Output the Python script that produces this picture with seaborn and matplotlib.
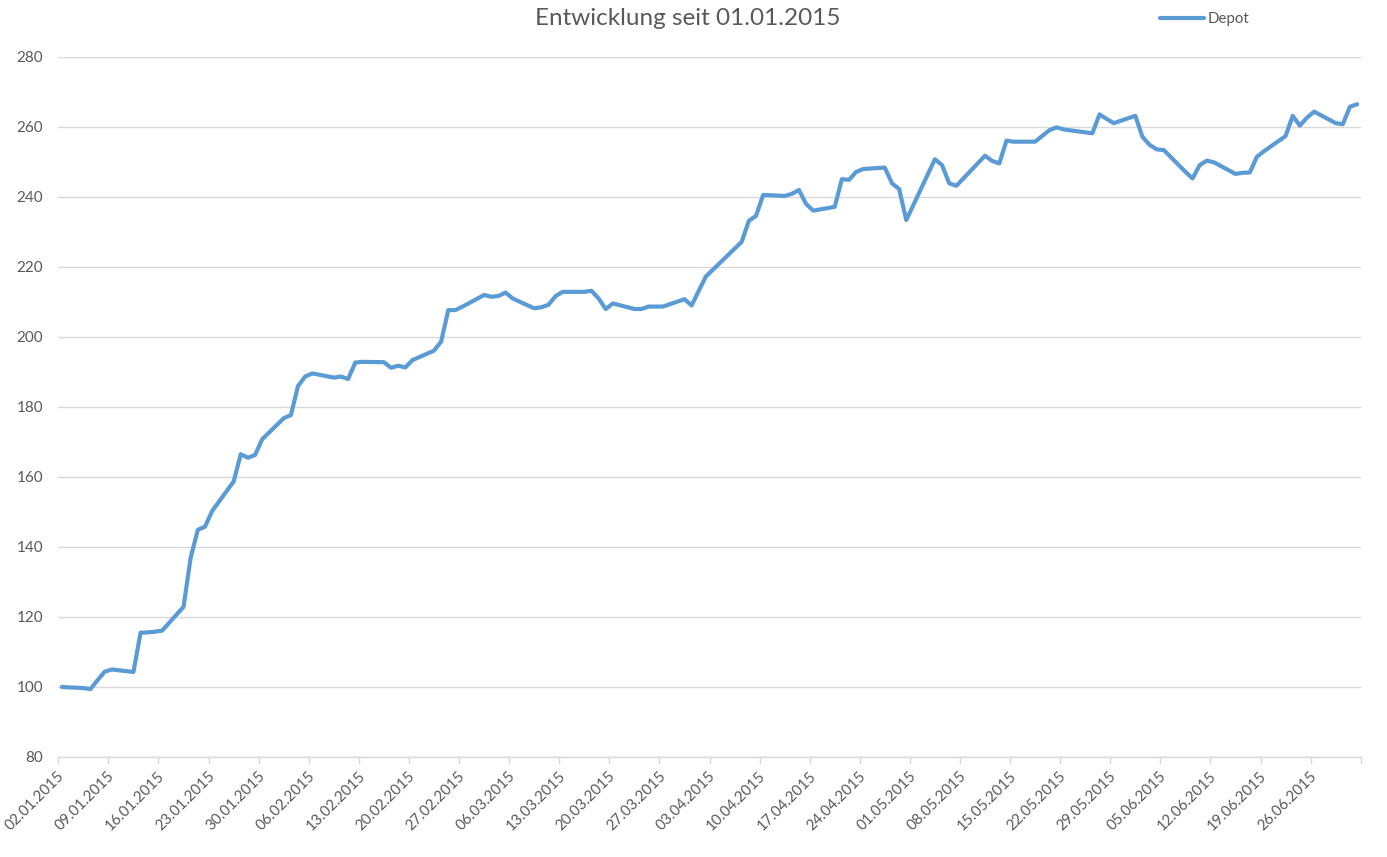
import matplotlib
matplotlib.use("Agg")
import matplotlib.pyplot as plt
import seaborn as sns
import pandas as pd

# ---- data ----
dates = [
    "2015-01-02", "2015-01-05", "2015-01-06", "2015-01-07", "2015-01-08", "2015-01-09",
    "2015-01-12", "2015-01-13", "2015-01-14", "2015-01-15", "2015-01-16",
    "2015-01-19", "2015-01-20", "2015-01-21", "2015-01-22", "2015-01-23",
    "2015-01-26", "2015-01-27", "2015-01-28", "2015-01-29", "2015-01-30",
    "2015-02-02", "2015-02-03", "2015-02-04", "2015-02-05", "2015-02-06",
    "2015-02-09", "2015-02-10", "2015-02-11", "2015-02-12", "2015-02-13",
    "2015-02-16", "2015-02-17", "2015-02-18", "2015-02-19", "2015-02-20",
    "2015-02-23", "2015-02-24", "2015-02-25", "2015-02-26", "2015-02-27",
    "2015-03-02", "2015-03-03", "2015-03-04", "2015-03-05", "2015-03-06",
    "2015-03-09", "2015-03-10", "2015-03-11", "2015-03-12", "2015-03-13",
    "2015-03-16", "2015-03-17", "2015-03-18", "2015-03-19", "2015-03-20",
    "2015-03-23", "2015-03-24", "2015-03-25", "2015-03-26", "2015-03-27",
    "2015-03-30", "2015-03-31", "2015-04-01", "2015-04-02",
    "2015-04-07", "2015-04-08", "2015-04-09", "2015-04-10",
    "2015-04-13", "2015-04-14", "2015-04-15", "2015-04-16", "2015-04-17",
    "2015-04-20", "2015-04-21", "2015-04-22", "2015-04-23", "2015-04-24",
    "2015-04-27", "2015-04-28", "2015-04-29", "2015-04-30",
    "2015-05-04", "2015-05-05", "2015-05-06", "2015-05-07",
    "2015-05-11", "2015-05-12", "2015-05-13", "2015-05-14", "2015-05-15",
    "2015-05-18", "2015-05-20", "2015-05-21", "2015-05-22",
    "2015-05-26", "2015-05-27", "2015-05-28", "2015-05-29",
    "2015-06-01", "2015-06-02", "2015-06-03", "2015-06-04", "2015-06-05",
    "2015-06-08", "2015-06-09", "2015-06-10", "2015-06-11", "2015-06-12",
    "2015-06-15", "2015-06-16", "2015-06-17", "2015-06-18", "2015-06-19",
    "2015-06-22", "2015-06-23", "2015-06-24", "2015-06-25", "2015-06-26",
    "2015-06-29", "2015-06-30", "2015-07-01", "2015-07-02",
]
depot = [
    100.0, 99.7, 99.4, 102.0, 104.4, 105.0,
    104.3, 115.5, 115.6, 115.8, 116.1,
    122.9, 137.0, 144.9, 145.8, 150.3,
    158.7, 166.5, 165.5, 166.3, 170.8,
    176.8, 177.7, 186.0, 188.7, 189.6,
    188.4, 188.7, 188.0, 192.7, 192.9,
    192.8, 191.2, 191.8, 191.3, 193.4,
    196.1, 198.7, 207.7, 207.7, 208.7,
    212.0, 211.5, 211.7, 212.7, 211.0,
    208.2, 208.5, 209.2, 211.7, 212.9,
    212.9, 213.2, 211.0, 208.0, 209.6,
    208.0, 208.0, 208.7, 208.7, 208.7,
    210.8, 209.0, 213.2, 217.3,
    227.2, 233.2, 234.6, 240.6,
    240.3, 240.9, 242.0, 238.0, 236.1,
    237.2, 245.1, 244.9, 247.2, 248.0,
    248.4, 243.9, 242.3, 233.4,
    250.8, 249.1, 243.9, 243.2,
    251.8, 250.3, 249.6, 256.1, 255.8,
    255.8, 259.1, 259.9, 259.3,
    258.2, 263.6, 262.3, 261.1,
    263.2, 257.2, 254.9, 253.6, 253.4,
    247.2, 245.3, 249.1, 250.4, 249.9,
    246.6, 246.9, 247.0, 251.5, 253.1,
    257.4, 263.2, 260.4, 262.7, 264.4,
    261.1, 260.8, 265.8, 266.5,
]
series_name = "Depot"
title = "Entwicklung seit 01.01.2015"
y_ticks = [80, 100, 120, 140, 160, 180, 200, 220, 240, 260, 280]

df = pd.DataFrame({"Datum": pd.to_datetime(dates), series_name: depot})
# Excel date axis: each point sits in the middle of its day slot
df["x"] = df["Datum"] + pd.Timedelta(hours=12)

# ---- style ----
sns.set_theme(style="white")
plt.rcParams["font.family"] = ["Lato", "DejaVu Sans"]
text_col = "#595959"
grid_col = "#D9D9D9"
line_col = "#5B9BD5"

fig = plt.figure(figsize=(13.87, 8.57), dpi=100)
ax = fig.add_axes([58.3 / 1387, 1 - 757 / 857, (1360.7 - 58.3) / 1387, 700 / 857])

sns.lineplot(data=df, x="x", y=series_name, ax=ax, color=line_col,
             linewidth=3.0, label=series_name, legend=False,
             solid_capstyle="round", solid_joinstyle="round")

ax.set_ylim(80, 280)
ax.set_yticks(y_ticks)
ax.yaxis.grid(True, color=grid_col, linewidth=1.0)
ax.set_axisbelow(True)

start = pd.Timestamp("2015-01-02")
end = pd.Timestamp("2015-07-03")
ax.set_xlim(start, end)
tick_dates = pd.date_range(start, end, freq="7D")
ax.set_xticks(tick_dates)
ax.set_xticklabels([d.strftime("%d.%m.%Y") if d <= pd.Timestamp("2015-06-26") else ""
                    for d in tick_dates])
ax.set_xticks([end], minor=True)

for s in ["left", "right", "top"]:
    ax.spines[s].set_visible(False)
ax.spines["bottom"].set_color(grid_col)
ax.spines["bottom"].set_linewidth(1.0)

ax.tick_params(axis="y", length=0, pad=11, labelsize=11, labelcolor=text_col)
ax.tick_params(axis="x", which="both", direction="out", length=5, width=1,
               color=grid_col, bottom=True, pad=3, labelsize=10.8, labelcolor=text_col)
for lab in ax.get_xticklabels():
    lab.set_rotation(45)
    lab.set_ha("right")
    lab.set_va("center")
    lab.set_rotation_mode("anchor")
    lab.set_transform(lab.get_transform() + matplotlib.transforms.ScaledTranslation(4 / 100, -6 / 100, fig.dpi_scale_trans))

ax.set_xlabel("")
ax.set_ylabel("")

fig.text(688 / 1387, 1 - 18.5 / 857, title, ha="center", va="center",
         fontsize=17.5, color=text_col)

handles, labels = ax.get_legend_handles_labels()
fig.legend(handles, labels, loc="center left", bbox_to_anchor=(1160 / 1387, 1 - 19 / 857),
           frameon=False, fontsize=10.8, labelcolor=text_col, handlelength=2.9,
           handletextpad=0.25, borderpad=0, borderaxespad=0)

fig.savefig("out.png", dpi=100)
